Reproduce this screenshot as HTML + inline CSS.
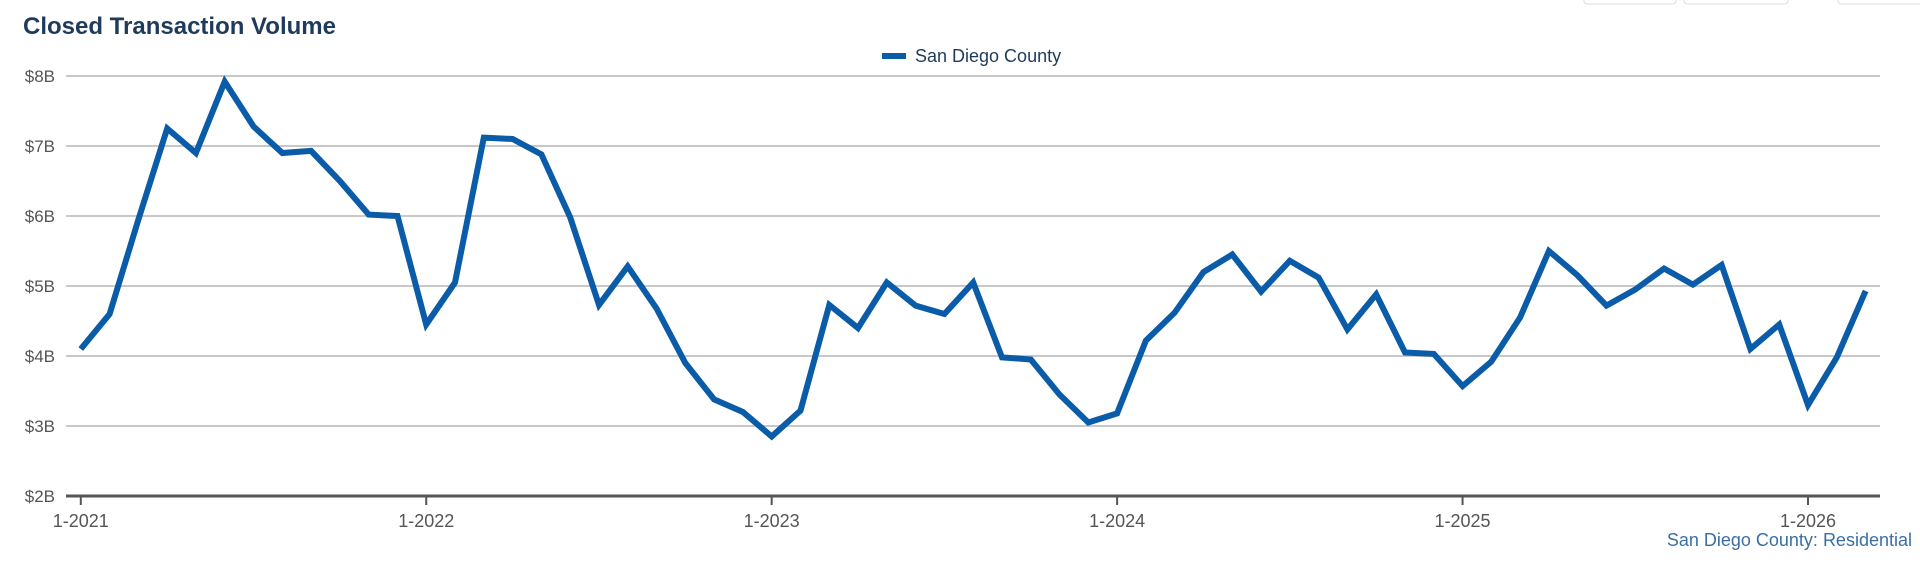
<!DOCTYPE html>
<html><head><meta charset="utf-8"><style>
html,body{margin:0;padding:0;background:#fff;}
body{width:1920px;height:560px;overflow:hidden;font-family:"Liberation Sans",sans-serif;}
</style></head><body>
<svg width="1920" height="560" xmlns="http://www.w3.org/2000/svg">
<rect x="1584" y="-6" width="92" height="10" rx="3" fill="#fff" stroke="#ddd"/>
<rect x="1684" y="-6" width="104" height="10" rx="3" fill="#fff" stroke="#ddd"/>
<rect x="1838" y="-6" width="90" height="10" rx="3" fill="#fff" stroke="#ddd"/>
<text x="23" y="34" font-size="24" font-weight="bold" fill="#1f3b5c">Closed Transaction Volume</text>
<g>
<rect x="882" y="53" width="24" height="6" fill="#0a5ca8"/>
<text x="915" y="62" font-size="18" fill="#1f3b5c">San Diego County</text>
</g>
<g id="grid"></g><g id="yl"></g><g id="xl"></g>
<line x1="66" y1="496" x2="1880" y2="496" stroke="#555" stroke-width="3"/>
<path id="ln" fill="none" stroke="#0a5ca8" stroke-width="6" stroke-linejoin="miter"/>
<text x="1912" y="546" font-size="18" fill="#3a6ea5" text-anchor="end">San Diego County: Residential</text>
</svg>
<script>
const yTicks=[2,3,4,5,6,7,8];
const xTickLabels=["1-2021","1-2022","1-2023","1-2024","1-2025","1-2026"];
const values=[4.1,4.6,5.95,7.25,6.9,7.92,7.28,6.9,6.93,6.5,6.02,6.0,
4.45,5.05,7.12,7.1,6.88,5.98,4.73,5.28,4.68,3.9,3.38,3.2,
2.85,3.22,4.73,4.4,5.05,4.72,4.6,5.05,3.98,3.95,3.45,3.05,
3.18,4.22,4.62,5.2,5.45,4.92,5.36,5.12,4.38,4.88,4.05,4.03,
3.57,3.92,4.55,5.5,5.15,4.72,4.95,5.25,5.02,5.3,4.1,4.45,
3.3,3.98,4.93];
const NS="http://www.w3.org/2000/svg";
function X(i){return 80.8+i*(1808-80.8)/60;}
function Y(v){return 496-(v-2)*70;}
const grid=document.getElementById('grid'),yl=document.getElementById('yl'),xl=document.getElementById('xl');
yTicks.forEach(v=>{
 if(v>2){const l=document.createElementNS(NS,'line');
 l.setAttribute('x1',66);l.setAttribute('x2',1880);l.setAttribute('y1',Y(v));l.setAttribute('y2',Y(v));
 l.setAttribute('stroke','#c8c8c8');l.setAttribute('stroke-width','2');
 
 
 grid.appendChild(l);}
 const t=document.createElementNS(NS,'text');
 t.setAttribute('x',55);t.setAttribute('y',Y(v)+6);t.setAttribute('text-anchor','end');
 t.setAttribute('font-size','17');t.setAttribute('fill','#555');t.textContent='$'+v+'B';
 
 
 yl.appendChild(t);
});
xTickLabels.forEach((s,k)=>{
 const x=X(k*12);
 const l=document.createElementNS(NS,'line');
 l.setAttribute('x1',x);l.setAttribute('x2',x);l.setAttribute('y1',496);l.setAttribute('y2',505);
 l.setAttribute('stroke','#555');l.setAttribute('stroke-width','2');
 
 
 xl.appendChild(l);
 const t=document.createElementNS(NS,'text');
 t.setAttribute('x',x);t.setAttribute('y',527);t.setAttribute('text-anchor','middle');
 t.setAttribute('font-size','18');t.setAttribute('fill','#555');t.textContent=s;
 
 
 xl.appendChild(t);
});
document.getElementById('ln').setAttribute('d',values.map((v,i)=>(i?'L':'M')+X(i).toFixed(1)+' '+Y(v).toFixed(1)).join(' '));
</script>
</body></html>
